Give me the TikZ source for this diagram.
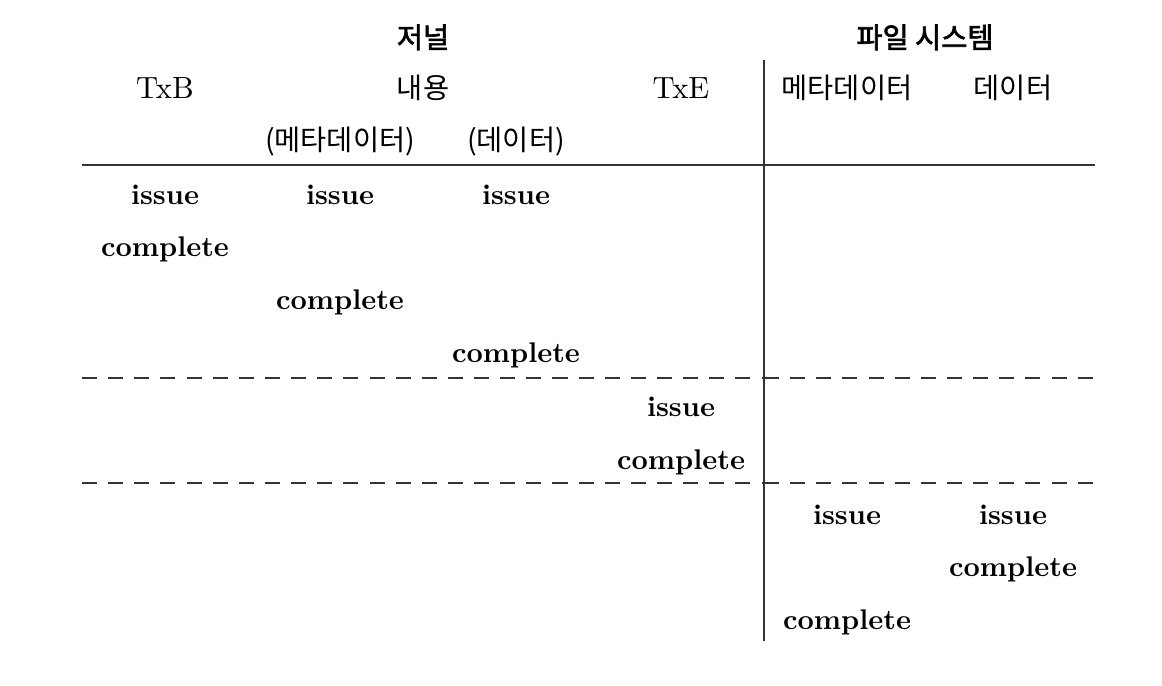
\documentclass[tikz,border=0pt]{standalone}
\usepackage{fontspec}
\newfontfamily\kr{Noto Sans CJK KR}
\newfontfamily\krb{Noto Sans CJK KR}[FakeBold=2.2]
\begin{document}
\begin{tikzpicture}[x=0.352pt,y=-0.352pt,
  cell/.style={inner sep=0pt,anchor=base,font=\bfseries},
  hd/.style={inner sep=0pt,anchor=base,font=\fontsize{10.8}{13}\selectfont},
  krhd/.style={inner sep=0pt,anchor=base,font=\kr},
  krbold/.style={inner sep=0pt,anchor=base,font=\krb},
  rule/.style={line width=0.5pt,draw=black!80},
  dashrule/.style={line width=0.5pt,draw=black!80,dash pattern=on 5.3pt off 3.9pt}]
\useasboundingbox (0,0) rectangle (1162,686);
% group headers
\node[krbold] (jn) at (423,48) {저널};
\node[krbold] (fs) at (925,48) {파일 시스템};
% column headers
\node[hd] (txb) at (165,99) {TxB};
\node[krhd] (nr) at (423,99) {내용};
\node[hd] (txe) at (681,99) {TxE};
\node[krhd] (fsm) at (847,99) {메타데이터};
\node[krhd] (fsd) at (1013,99) {데이터};
\node[krhd] (jm) at (340,151) {(메타데이터)};
\node[krhd] (jd) at (516,151) {(데이터)};
% rules
\coordinate (hl) at (82,165);
\coordinate (hr) at (1095,165);
\coordinate (vt) at (764,60);
\coordinate (vb) at (764,641);
\draw[rule] (hl) -- (hr);
\draw[rule] (vt) -- (vb);
\coordinate (d1l) at (82,378);
\coordinate (d1m) at (764,378);
\coordinate (d1r) at (1095,378);
\coordinate (d2l) at (82,483);
\coordinate (d2m) at (764,483);
\coordinate (d2r) at (1095,483);
\draw[dashrule] (d1l) -- (d1m);
\draw[dashrule] (d1m) -- (d1r);
\draw[dashrule] (d2l) -- (d2m);
\draw[dashrule] (d2m) -- (d2r);
% body
\node[cell] (i1) at (165,205) {issue};
\node[cell] (i2) at (340,205) {issue};
\node[cell] (i3) at (516,205) {issue};
\node[cell] (c1) at (165,257) {complete};
\node[cell] (c2) at (340,310) {complete};
\node[cell] (c3) at (516,363) {complete};
\node[cell] (i4) at (681,417) {issue};
\node[cell] (c4) at (681,470) {complete};
\node[cell] (i5) at (847,524) {issue};
\node[cell] (i6) at (1013,524) {issue};
\node[cell] (c6) at (1013,576) {complete};
\node[cell] (c5) at (847,629) {complete};
\end{tikzpicture}
\end{document}
